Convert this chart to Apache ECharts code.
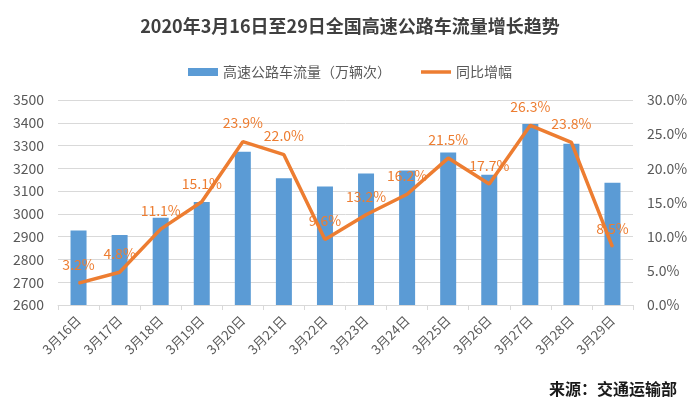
<!DOCTYPE html>
<html><head><meta charset="utf-8">
<script src="https://cdn.jsdelivr.net/npm/echarts@6/dist/echarts.min.js"></script>
<style>html,body{margin:0;padding:0;background:#fff}#c{width:700px;height:408px}</style>
</head><body><div id="c"></div>
<script>
var categories = ['3月16日','3月17日','3月18日','3月19日','3月20日','3月21日','3月22日','3月23日','3月24日','3月25日','3月26日','3月27日','3月28日','3月29日'];
var flowValues = [2927, 2907, 2983, 3052, 3273, 3157, 3120, 3177, 3191, 3269, 3172, 3395, 3308, 3137];
var growthValues = [3.2, 4.8, 11.1, 15.1, 23.9, 22.0, 9.6, 13.2, 16.2, 21.5, 17.7, 26.3, 23.8, 8.5];
var titleText = '2020年3月16日至29日全国高速公路车流量增长趋势';
var barName = '高速公路车流量（万辆次）';
var lineName = '同比增幅';
var sourceText = '来源：交通运输部';

var font = '"Noto Sans CJK SC", "Noto Sans", sans-serif';
var chart = echarts.init(document.getElementById('c'));
chart.setOption({
  animation: false,
  textStyle: {fontFamily: font},
  title: {text: titleText, left: 'center', top: 12,
    textStyle: {fontSize: 18, fontWeight: 'bold', color: '#404040', fontFamily: font}},
  legend: {
    top: 60, left: 'center', itemWidth: 30, itemHeight: 8, itemGap: 30,
    textStyle: {fontSize: 14, color: '#595959', fontFamily: font},
    data: [{name: barName, icon: 'rect'},
           {name: lineName, icon: 'path://M0,0 L30,0 L30,3.5 L0,3.5 Z'}]
  },
  grid: {left: 58, right: 67, top: 100, bottom: 103},
  xAxis: {
    type: 'category', data: categories,
    axisLine: {lineStyle: {color: '#d9d9d9'}},
    axisTick: {show: true, alignWithLabel: false, length: 5, lineStyle: {color: '#d9d9d9'}},
    axisLabel: {rotate: 45, fontSize: 13, color: '#595959', margin: 13, interval: 0, fontFamily: font}
  },
  yAxis: [{
    type: 'value', min: 2600, max: 3500, interval: 100,
    axisLine: {show: false}, axisTick: {show: false},
    splitLine: {lineStyle: {color: '#d9d9d9'}},
    axisLabel: {fontSize: 14, color: '#595959', margin: 14, fontFamily: font,
      formatter: function (v) { return String(v); }}
  }, {
    type: 'value', min: 0, max: 30, interval: 5,
    axisLine: {show: false}, axisTick: {show: false}, splitLine: {show: false},
    axisLabel: {fontSize: 14, color: '#595959', margin: 14, fontFamily: font,
      formatter: function (v) { return v.toFixed(1) + '%'; }}
  }],
  series: [{
    name: barName, type: 'bar', data: flowValues, barWidth: 16,
    itemStyle: {color: '#5B9BD5'}
  }, {
    name: lineName, type: 'line', yAxisIndex: 1, data: growthValues,
    symbol: 'circle', symbolSize: 1, showSymbol: true,
    lineStyle: {color: '#ED7D31', width: 3.5}, itemStyle: {color: '#ED7D31'},
    label: {show: true, position: 'top', distance: 11, color: '#ED7D31', fontSize: 14, fontFamily: font,
      formatter: function (p) { return p.value.toFixed(1) + '%'; }}
  }],
  graphic: [{
    type: 'text', right: 23, top: 381,
    style: {text: sourceText, font: 'bold 16px ' + font, fill: '#1a1a1a'}
  }]
});
</script></body></html>
